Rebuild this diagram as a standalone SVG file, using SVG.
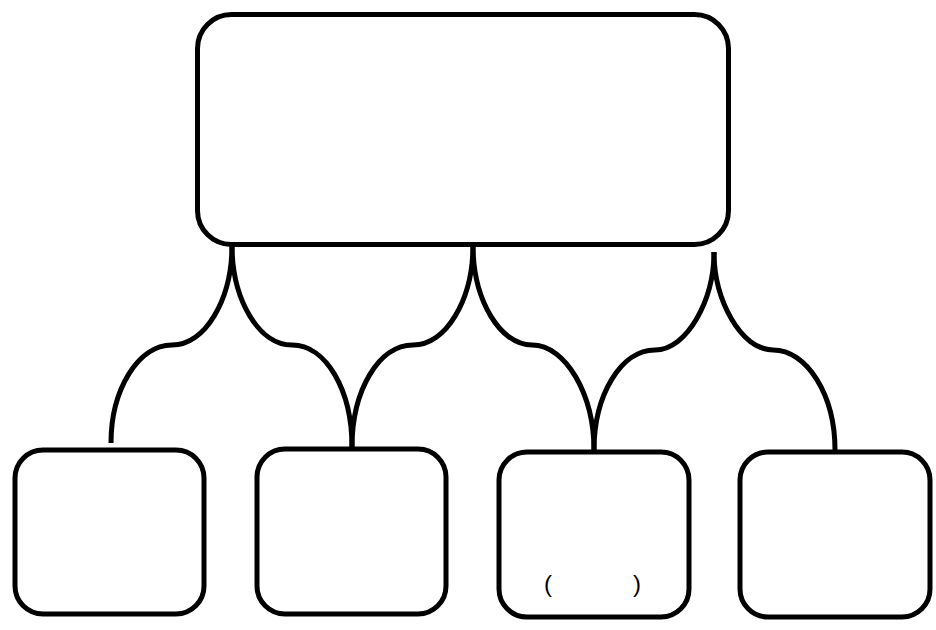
<svg xmlns="http://www.w3.org/2000/svg" width="936" height="630" viewBox="0 0 936 630">
<style>
.box{fill:#fff;stroke:#000;stroke-width:5}
.con{fill:none;stroke:#000;stroke-width:5}
.lbl{font-family:"Liberation Sans",Arial,sans-serif;font-size:24px;fill:#000}
</style>
<rect width="936" height="630" fill="#fff"/>
<g id="connectors">
<path class="con" d="M232,245 C232,300 205,345 172,345 C138,345 111,390 111,443"/>
<path class="con" d="M232,245 C232,300 259,345 292,345 C326,345 352,390 352,447"/>
<path class="con" d="M473,245 C473,300 446,345 413,345 C379,345 352,390 352,447"/>
<path class="con" d="M473,245 C473,300 500,345 532,345 C566,345 594,395 594,450"/>
<path class="con" d="M714,252 C714,300 687,350 655,350 C621,350 594,395 594,450"/>
<path class="con" d="M714,252 C714,300 741,350 773,350 C807,350 835,395 835,450"/>
</g>
<g id="top"><rect class="box" x="197.5" y="14.5" width="531" height="230" rx="34"/></g>
<g id="b1"><rect class="box" x="15" y="450" width="189" height="164" rx="28"/></g>
<g id="b2"><rect class="box" x="257" y="449" width="189" height="165" rx="28"/></g>
<g id="b3"><rect class="box" x="499" y="452" width="190" height="165" rx="28"/>
<text class="lbl" x="548" y="592" text-anchor="middle">(</text>
<text class="lbl" x="637" y="592" text-anchor="middle">)</text></g>
<g id="b4"><rect class="box" x="740" y="452" width="190" height="165" rx="28"/></g>
</svg>
